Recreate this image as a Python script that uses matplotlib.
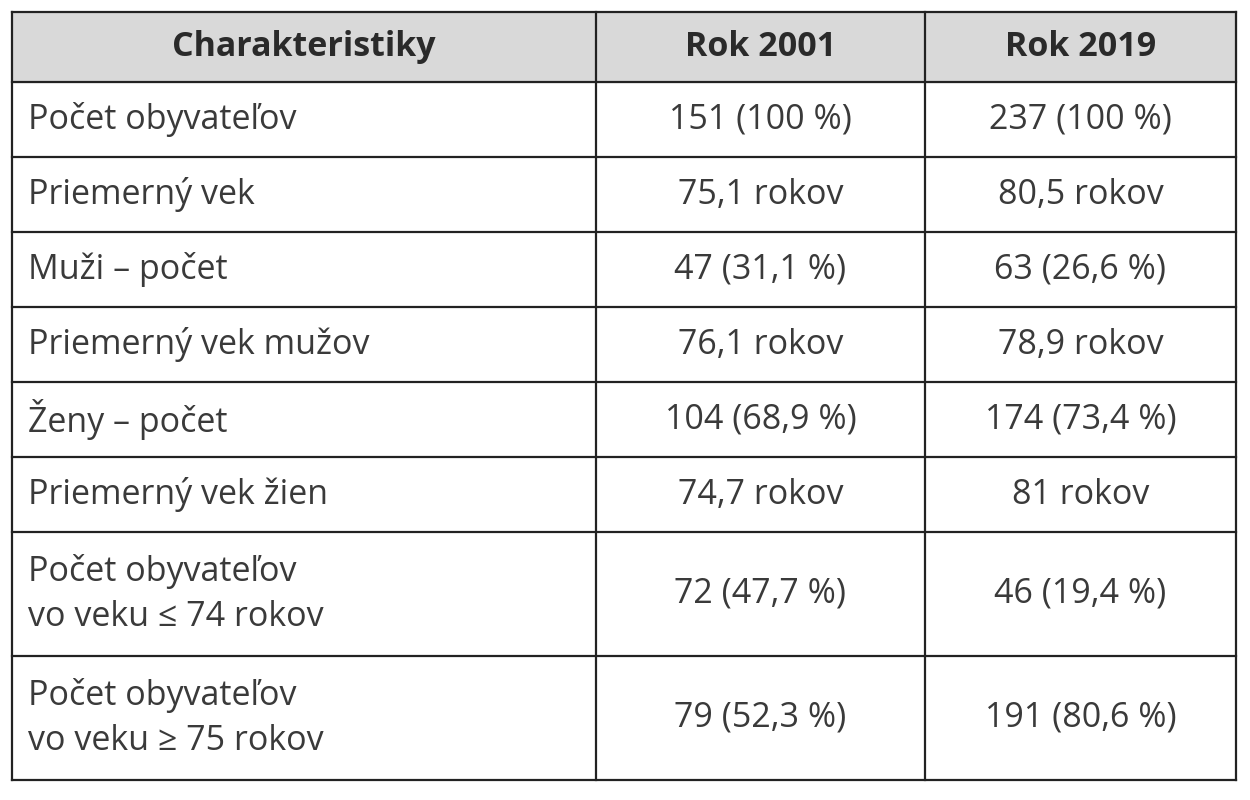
import matplotlib
matplotlib.use("Agg")
import matplotlib.pyplot as plt
from matplotlib.patches import Rectangle

headers = ["Charakteristiky", "Rok 2001", "Rok 2019"]
labels = ["Počet obyvateľov", "Priemerný vek", "Muži – počet", "Priemerný vek mužov",
          "Ženy – počet", "Priemerný vek žien", "Počet obyvateľov\nvo veku ≤ 74 rokov",
          "Počet obyvateľov\nvo veku ≥ 75 rokov"]
col2001 = ["151 (100 %)", "75,1 rokov", "47 (31,1 %)", "76,1 rokov", "104 (68,9 %)",
           "74,7 rokov", "72 (47,7 %)", "79 (52,3 %)"]
col2019 = ["237 (100 %)", "80,5 rokov", "63 (26,6 %)", "78,9 rokov", "174 (73,4 %)",
           "81 rokov", "46 (19,4 %)", "191 (80,6 %)"]

plt.rcParams['font.family'] = ['Open Sans', 'DejaVu Sans']
fig = plt.figure(figsize=(12.5, 8), dpi=100)
ax = fig.add_axes([0, 0, 1, 1])
ax.set_xlim(0, 1250); ax.set_ylim(800, 0); ax.axis('off')

xs = [12, 596, 925, 1236]
heights = [70] + [75] * 6 + [124, 124]
ys = [12]
for h in heights:
    ys.append(ys[-1] + h)

tc = '#3a3a3a'
ax.add_patch(Rectangle((xs[0], ys[0]), xs[-1] - xs[0], heights[0], color='#d9d9d9', zorder=0))
for y in ys:
    ax.plot([xs[0], xs[-1]], [y, y], color='#222', lw=1.6)
for x in xs:
    ax.plot([x, x], [ys[0], ys[-1]], color='#222', lw=1.6)

fs = 24.5
cx = [(xs[i] + xs[i + 1]) / 2 for i in range(3)]
ymid = (ys[0] + ys[1]) / 2
for i, h in enumerate(headers):
    ax.text(cx[i], ymid, h, ha='center', va='center', fontsize=fs, fontweight='bold', color='#2a2a2a')
for r in range(len(labels)):
    ym = (ys[r + 1] + ys[r + 2]) / 2
    ax.text(28, ym, labels[r], ha='left', va='center', fontsize=fs, color=tc, linespacing=1.4)
    ax.text(cx[1], ym, col2001[r], ha='center', va='center', fontsize=fs, color=tc)
    ax.text(cx[2], ym, col2019[r], ha='center', va='center', fontsize=fs, color=tc)

fig.savefig("out.png", dpi=100, facecolor='white')
